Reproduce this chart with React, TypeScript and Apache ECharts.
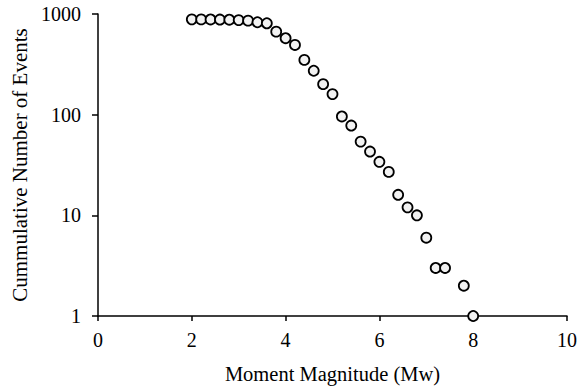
import React, { useEffect, useRef } from "react";
import * as echarts from "echarts";

const magnitudes = [2.0, 2.2, 2.4, 2.6, 2.8, 3.0, 3.2, 3.4, 3.6, 3.8, 4.0, 4.2, 4.4, 4.6, 4.8, 5.0, 5.2, 5.4, 5.6, 5.8, 6.0, 6.2, 6.4, 6.6, 6.8, 7.0, 7.2, 7.4, 7.8, 8.0];
const cumulativeEvents = [885, 884, 883, 881, 878, 870, 859, 828, 809, 668, 575, 493, 350, 273, 201, 160, 96, 78, 54, 43, 34, 27, 16, 12, 10, 6, 3, 3, 2, 1];
const xTicks = { min: 0, max: 10, interval: 2 };
const yRange = { min: 1, max: 1000 };

export default function App() {
  const ref = useRef<HTMLDivElement>(null);
  useEffect(() => {
    if (!ref.current) return;
    const chart = echarts.init(ref.current, undefined, { renderer: "svg" });
    const font = "Liberation Serif";
    chart.setOption({
      animation: false,
      backgroundColor: "#ffffff",
      textStyle: { fontFamily: font },
      grid: { left: 98, top: 14, right: 15, bottom: 72, containLabel: false },
      xAxis: {
        type: "value",
        min: xTicks.min,
        max: xTicks.max,
        interval: xTicks.interval,
        name: "Moment Magnitude (Mw)",
        nameLocation: "middle",
        nameGap: 47,
        nameTextStyle: { fontFamily: font, fontSize: 20.5, color: "#000" },
        axisLine: { show: true, onZero: false, lineStyle: { color: "#000", width: 1.5 } },
        axisTick: { show: true, length: 5, lineStyle: { color: "#000", width: 1.5 } },
        axisLabel: { fontFamily: font, fontSize: 20, color: "#000", margin: 14 },
        splitLine: { show: false },
      },
      yAxis: {
        type: "log",
        logBase: 10,
        min: yRange.min,
        max: yRange.max,
        name: "Cummulative Number of Events",
        nameLocation: "middle",
        nameGap: 66,
        nameTextStyle: { fontFamily: font, fontSize: 21, color: "#000" },
        axisLine: { show: true, lineStyle: { color: "#000", width: 1.5 } },
        axisTick: { show: true, length: 6, lineStyle: { color: "#000", width: 1.5 } },
        axisLabel: {
          fontFamily: font,
          fontSize: 20,
          color: "#000",
          margin: 17,
          formatter: (v: number) => String(Math.round(v)),
        },
        splitLine: { show: false },
        minorTick: { show: false },
      },
      series: [
        {
          type: "scatter",
          data: magnitudes.map((m, i) => [m, cumulativeEvents[i]]),
          symbol: "circle",
          symbolSize: 10,
          itemStyle: { color: "#f2f2f2", borderColor: "#000", borderWidth: 1.8, opacity: 1 },
        },
      ],
    });
    return () => chart.dispose();
  }, []);
  return <div ref={ref} style={{ width: 582, height: 389, position: "absolute", left: 0, top: 0 }} />;
}
